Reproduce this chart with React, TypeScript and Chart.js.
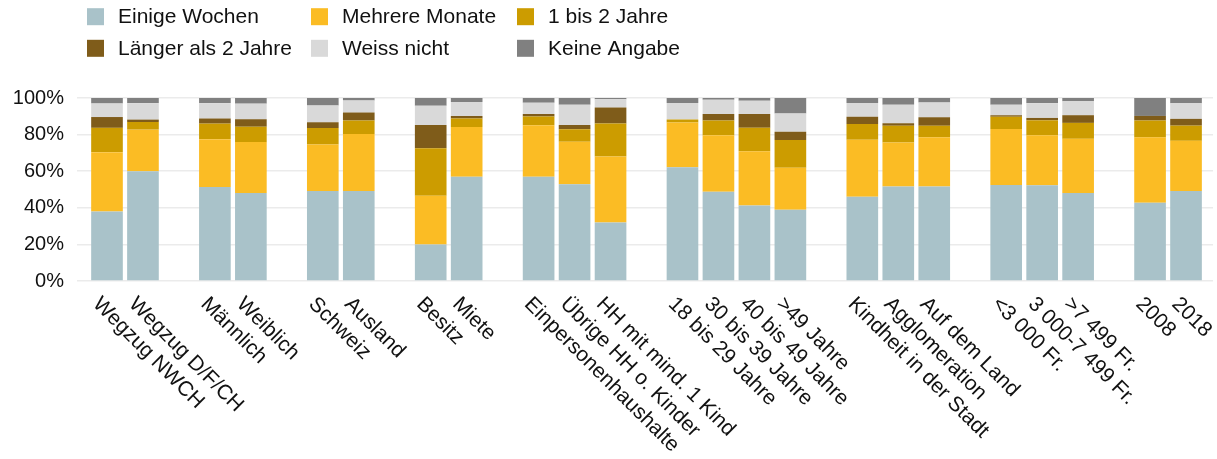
import React, { useEffect, useRef } from "react";
import { Chart, registerables } from "chart.js";

Chart.register(...registerables);

const groups: string[][] = [
  ["Wegzug NWCH", "Wegzug D/F/CH"],
  ["Männlich", "Weiblich"],
  ["Schweiz", "Ausland"],
  ["Besitz", "Miete"],
  ["Einpersonenhaushalte", "Übrige HH o. Kinder", "HH mit mind. 1 Kind"],
  ["18 bis 29 Jahre", "30 bis 39 Jahre", "40 bis 49 Jahre", ">49 Jahre"],
  ["Kindheit in der Stadt", "Agglomeration", "Auf dem Land"],
  ["<3 000 Fr.", "3 000-7 499 Fr.", ">7 499 Fr."],
  ["2008", "2018"],
];

const seriesNames = [
  "Einige Wochen",
  "Mehrere Monate",
  "1 bis 2 Jahre",
  "Länger als 2 Jahre",
  "Weiss nicht",
  "Keine Angabe",
];

const einigeWochen = [38.0, 60.0, 51.4, 48.1, 49.2, 49.2, 19.9, 56.9, 56.9, 52.9, 31.9, 62.1, 48.8, 41.3, 39.0, 46.0, 51.6, 51.6, 52.5, 52.3, 48.1, 42.7, 49.2];
const mehrereMonate = [32.4, 22.7, 26.1, 27.8, 25.4, 31.1, 26.7, 27.3, 28.2, 23.2, 36.2, 24.5, 30.8, 29.6, 22.9, 31.2, 24.1, 26.9, 30.6, 27.3, 29.6, 35.8, 27.4];
const einBisZweiJahre = [13.3, 4.2, 8.5, 8.4, 9.0, 7.4, 26.0, 4.6, 4.8, 6.8, 17.9, 1.6, 8.1, 12.9, 15.1, 8.6, 9.2, 6.4, 6.6, 8.2, 8.7, 9.2, 8.3];
const laengerAlsZwei = [5.9, 1.3, 2.8, 4.1, 3.1, 4.4, 12.7, 1.3, 1.4, 2.4, 8.8, 0, 3.5, 7.5, 4.6, 3.9, 1.3, 4.6, 0.9, 1.3, 4.2, 2.5, 3.7];
const weissNicht = [7.4, 9.0, 8.4, 8.5, 9.2, 6.6, 10.5, 7.7, 6.1, 11.0, 4.5, 9.0, 7.9, 7.2, 9.9, 7.5, 10.1, 8.1, 5.7, 8.1, 7.6, 0, 8.5];
const keineAngabe = [3.1, 2.8, 2.8, 3.1, 4.1, 1.3, 4.2, 2.2, 2.6, 3.7, 0.7, 2.8, 0.9, 1.5, 8.5, 2.8, 3.7, 2.4, 3.7, 2.8, 1.8, 9.8, 2.9];

const yTicks = [0, 20, 40, 60, 80, 100];

const colors = ["#A9C2C9", "#FBBC24", "#CC9C00", "#7F5C1A", "#D9D9D9", "#808080"];

const FONT = "'Liberation Sans', Arial, sans-serif";
const TEXT = "#111111";

export default function App() {
  const ref = useRef<HTMLCanvasElement | null>(null);

  useEffect(() => {
    document.body.style.margin = "0";
    const canvas = ref.current;
    if (!canvas) return;

    const labels: string[] = [];
    const xs: number[] = [];
    let slot = 0;
    groups.forEach((g) => {
      g.forEach((l) => {
        labels.push(l);
        xs.push(slot);
        slot++;
      });
      slot++;
    });
    const lastSlot = slot - 2;

    const allSeries = [einigeWochen, mehrereMonate, einBisZweiJahre, laengerAlsZwei, weissNicht, keineAngabe];

    const datasets = allSeries.map((vals, si) => ({
      label: seriesNames[si],
      data: vals.map((v, i) => ({ x: xs[i], y: v })),
      backgroundColor: colors[si],
      borderWidth: 0,
      categoryPercentage: 1,
      barPercentage: 0.88,
    }));

    const overlay = {
      id: "overlay",
      afterDraw(chart: any) {
        const ctx = chart.ctx;
        const xScale = chart.scales.x;
        const area = chart.chartArea;
        ctx.save();
        // legend
        const colLeft = [87, 311, 517];
        const rowMid = [16.7, 48.3];
        ctx.font = `21px ${FONT}`;
        ctx.textBaseline = "middle";
        ctx.textAlign = "left";
        seriesNames.forEach((name, i) => {
          const col = i % 3;
          const row = Math.floor(i / 3);
          const bx = colLeft[col];
          const by = rowMid[row];
          ctx.fillStyle = colors[i];
          ctx.fillRect(bx, by - 8.5, 17, 17);
          ctx.fillStyle = TEXT;
          ctx.fillText(name, bx + 31, by + 1);
        });
        // x labels
        ctx.font = `21px ${FONT}`;
        ctx.textBaseline = "alphabetic";
        ctx.fillStyle = TEXT;
        labels.forEach((l, i) => {
          const px = xScale.getPixelForValue(xs[i]);
          ctx.save();
          ctx.translate(px - 15, area.bottom + 24);
          ctx.rotate(Math.PI / 4);
          ctx.fillText(l, 0, 0);
          ctx.restore();
        });
        ctx.restore();
      },
    };

    const chart = new Chart(canvas, {
      type: "bar",
      data: { datasets: datasets as any },
      options: {
        responsive: false,
        animation: false,
        layout: { padding: { top: 98, bottom: 178, left: 0, right: 4 } },
        plugins: { legend: { display: false }, tooltip: { enabled: false } },
        scales: {
          x: {
            type: "linear",
            stacked: true,
            display: false,
            offset: false,
            min: -0.834,
            max: lastSlot + 0.75,
          },
          y: {
            stacked: true,
            min: 0,
            max: 100,
            afterBuildTicks: (s: any) => {
              s.ticks = yTicks.map((v) => ({ value: v }));
            },
            afterFit: (s: any) => {
              s.width = 77;
            },
            ticks: {
              callback: (v: any) => `${v}%`,
              font: { family: FONT, size: 20 },
              color: TEXT,
              padding: 13,
            },
            grid: { color: "#ebebeb", lineWidth: 1.5, drawTicks: false },
            border: { display: false },
          },
        },
      },
      plugins: [overlay],
    });

    return () => chart.destroy();
  }, []);

  return <canvas ref={ref} width={1217} height={459} style={{ display: "block" }} />;
}
